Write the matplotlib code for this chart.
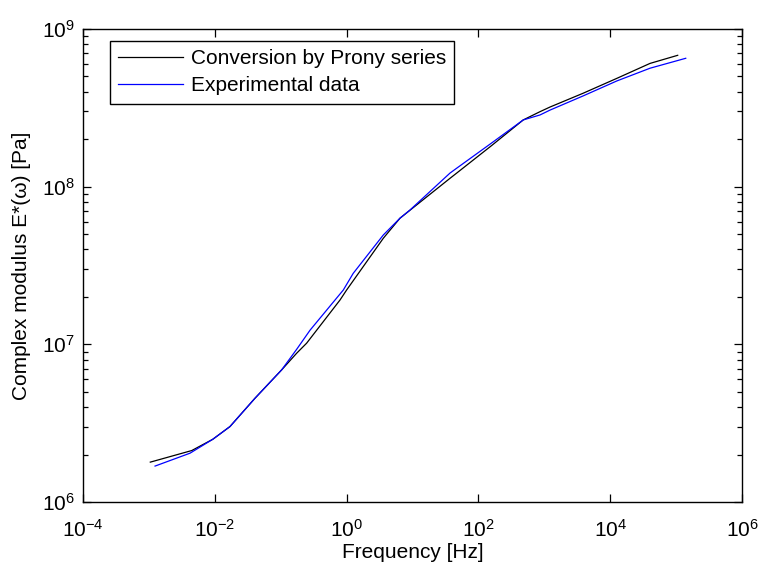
import numpy as np
import matplotlib
matplotlib.use("Agg")
import matplotlib.pyplot as plt
from matplotlib.ticker import LogLocator, NullLocator, NullFormatter

plt.rcParams['font.family'] = ['Liberation Sans', 'DejaVu Sans']
plt.rcParams['mathtext.fontset'] = 'custom'
plt.rcParams['mathtext.rm'] = 'Liberation Sans'
plt.rcParams['mathtext.it'] = 'Liberation Sans:italic'
plt.rcParams['mathtext.bf'] = 'Liberation Sans:bold'

# Conversion by Prony series (black)
prony_freq = [1.05e-3, 4.47e-3, 9.33e-3, 1.70e-2, 4.07e-2, 0.1035, 0.175, 0.247, 0.794,
              1.0, 3.61, 6.46, 37.1, 46.9, 158, 479, 861, 1222, 3864, 1.256e4,
              4.02e4, 1.057e5]
prony_mod = [1.79e6, 2.12e6, 2.50e6, 3.01e6, 4.55e6, 6.89e6, 8.79e6, 1.016e7, 1.91e7,
             2.21e7, 4.71e7, 6.31e7, 1.13e8, 1.22e8, 1.82e8, 2.65e8, 2.99e8, 3.20e8,
             3.91e8, 4.86e8, 6.05e8, 6.81e8]

# Experimental data (blue)
exp_freq = [1.24e-3, 4.21e-3, 9.33e-3, 1.70e-2, 4.07e-2, 0.1035, 0.175, 0.279, 0.667,
            0.891, 1.26, 3.61, 6.46, 9.16, 37.1, 46.9, 158, 479, 861, 1222, 3864,
            1.256e4, 4.02e4, 1.40e5]
exp_mod = [1.69e6, 2.04e6, 2.50e6, 3.01e6, 4.55e6, 6.89e6, 9.31e6, 1.23e7, 1.91e7,
           2.21e7, 2.82e7, 4.94e7, 6.31e7, 7.11e7, 1.22e8, 1.31e8, 1.89e8, 2.65e8,
           2.85e8, 3.06e8, 3.76e8, 4.68e8, 5.64e8, 6.52e8]

labels = ['Conversion by Prony series', 'Experimental data']
xlabel = 'Frequency [Hz]'
ylabel = 'Complex modulus E*(ω) [Pa]'
xticks = [1e-4, 1e-2, 1e0, 1e2, 1e4, 1e6]
yticks = [1e6, 1e7, 1e8, 1e9]

W, H = 760, 565
L, R, T, B = 83, 742, 29, 502
fig = plt.figure(figsize=(W / 100, H / 100), dpi=100)
ax = fig.add_axes([L / W, 1 - B / H, (R - L) / W, (B - T) / H])

ax.plot(prony_freq, prony_mod, color='black', lw=0.9, label=labels[0])
ax.plot(exp_freq, exp_mod, color='#0000ff', lw=0.9, label=labels[1])

ax.set_xscale('log')
ax.set_yscale('log')
ax.set_xlim(xticks[0], xticks[-1])
ax.set_ylim(yticks[0], yticks[-1])

ax.set_xticks(xticks)
ax.xaxis.set_minor_locator(NullLocator())
ax.set_yticks(yticks)
ax.yaxis.set_minor_locator(LogLocator(base=10, subs=np.arange(2, 10), numticks=20))
ax.yaxis.set_minor_formatter(NullFormatter())

fs = 15
ax.tick_params(which='both', direction='in', top=True, right=True, labelsize=fs, width=0.9)
ax.tick_params(which='major', length=5.5)
ax.tick_params(which='minor', length=3.5)
ax.tick_params(axis='x', which='major', pad=12)
ax.tick_params(axis='y', which='major', pad=6)
for s in ax.spines.values():
    s.set_linewidth(1.0)

ax.set_xlabel(xlabel, fontsize=fs, labelpad=2)
ax.set_ylabel(ylabel, fontsize=fs, labelpad=8)

leg = ax.legend(loc='upper left', bbox_to_anchor=(27 / (R - L), 1 - 12 / (B - T)),
                borderaxespad=0, fontsize=fs, frameon=True, fancybox=False,
                edgecolor='black', framealpha=1, handlelength=3.1, handletextpad=0.38,
                labelspacing=0.38, borderpad=0.4)
leg.get_frame().set_linewidth(1.0)

fig.savefig('out.png', dpi=100)
